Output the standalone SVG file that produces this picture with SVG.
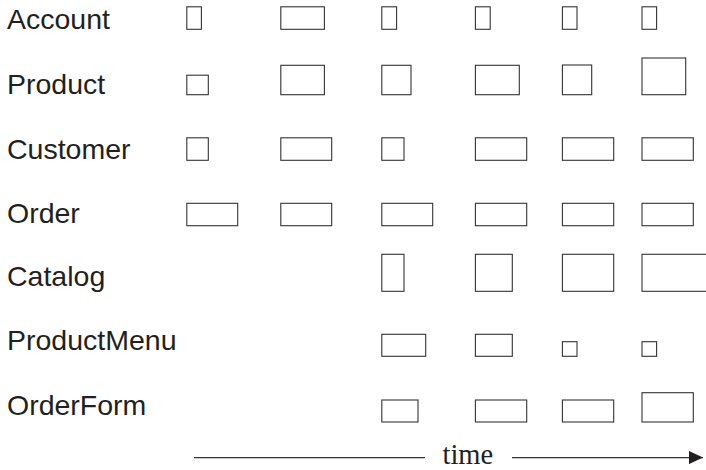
<svg xmlns="http://www.w3.org/2000/svg" width="706" height="470" viewBox="0 0 706 470">
<style>
.b{fill:none;stroke:#333;stroke-width:1.1}
.lbl{font-family:"Liberation Sans",Arial,sans-serif;font-size:28.5px;fill:#231f20}
.t{font-family:"Liberation Serif","Times New Roman",serif;font-size:28.5px;fill:#231f20}
.ax{stroke:#333;stroke-width:1.2;fill:none}
</style>
<defs>
<marker id="ah" markerWidth="14" markerHeight="13" refX="14" refY="6.5" orient="auto" markerUnits="userSpaceOnUse">
<path d="M0,0 L14,6.5 L0,13 Z" fill="#231f20"/>
</marker>
</defs>
<g id="labels">
<text class="lbl" x="7" y="29.3">Account</text>
<text class="lbl" x="7" y="94.3">Product</text>
<text class="lbl" x="7" y="158.7">Customer</text>
<text class="lbl" x="7" y="222.7">Order</text>
<text class="lbl" x="7" y="285.7">Catalog</text>
<text class="lbl" x="7" y="350">ProductMenu</text>
<text class="lbl" x="7" y="415">OrderForm</text>
</g>
<g id="account">
<rect class="b" x="186.8" y="6.8" width="14.6" height="22.5"/>
<rect class="b" x="280.8" y="6.8" width="43.6" height="22.5"/>
<rect class="b" x="381.8" y="6.8" width="14.8" height="22.5"/>
<rect class="b" x="475.4" y="6.8" width="14.8" height="22.5"/>
<rect class="b" x="562.4" y="6.8" width="14.6" height="22.5"/>
<rect class="b" x="642" y="6.8" width="14.6" height="22.5"/>
</g>
<g id="product">
<rect class="b" x="186.8" y="75.2" width="21.5" height="19.5"/>
<rect class="b" x="280.8" y="65.3" width="43.6" height="29.4"/>
<rect class="b" x="381.8" y="65.3" width="29.2" height="29.4"/>
<rect class="b" x="475.4" y="65.3" width="43.9" height="29.4"/>
<rect class="b" x="562.4" y="65" width="29.3" height="29.7"/>
<rect class="b" x="642" y="58" width="43.7" height="36.7"/>
</g>
<g id="customer">
<rect class="b" x="186.8" y="137.8" width="21.5" height="22.5"/>
<rect class="b" x="280.8" y="137.8" width="50.9" height="22.5"/>
<rect class="b" x="381.8" y="137.8" width="22.2" height="22.5"/>
<rect class="b" x="475.4" y="137.8" width="51.3" height="22.5"/>
<rect class="b" x="562.4" y="137.8" width="51.3" height="22.5"/>
<rect class="b" x="642" y="137.8" width="51.3" height="22.5"/>
</g>
<g id="order">
<rect class="b" x="186.8" y="203.3" width="50.9" height="22.4"/>
<rect class="b" x="280.8" y="203.3" width="50.9" height="22.4"/>
<rect class="b" x="381.8" y="203.3" width="50.9" height="22.4"/>
<rect class="b" x="475.4" y="203.3" width="51.3" height="22.4"/>
<rect class="b" x="562.4" y="203.3" width="51.3" height="22.4"/>
<rect class="b" x="642" y="203.3" width="51.3" height="22.4"/>
</g>
<g id="catalog">
<rect class="b" x="381.8" y="254.3" width="22.2" height="37"/>
<rect class="b" x="475.4" y="254.3" width="36.9" height="37"/>
<rect class="b" x="562.4" y="254.3" width="51.3" height="37"/>
<rect class="b" x="642" y="254.3" width="70" height="37"/>
</g>
<g id="productmenu">
<rect class="b" x="381.8" y="334.3" width="43.9" height="22"/>
<rect class="b" x="475.4" y="334.3" width="36.9" height="22"/>
<rect class="b" x="562.4" y="341.7" width="14.6" height="14.6"/>
<rect class="b" x="642" y="341.7" width="14.6" height="14.6"/>
</g>
<g id="orderform">
<rect class="b" x="381.8" y="400" width="36.2" height="22"/>
<rect class="b" x="475.4" y="400" width="51.3" height="22"/>
<rect class="b" x="562.4" y="400" width="51.3" height="22"/>
<rect class="b" x="642" y="392.7" width="51.3" height="29.3"/>
</g>
<g id="connectors">
<line class="ax" x1="194" y1="457.6" x2="425" y2="457.6"/>
<line class="ax" x1="512" y1="457.6" x2="703" y2="457.6" marker-end="url(#ah)"/>
<text class="t" x="442.5" y="464.4">time</text>
</g>
</svg>
